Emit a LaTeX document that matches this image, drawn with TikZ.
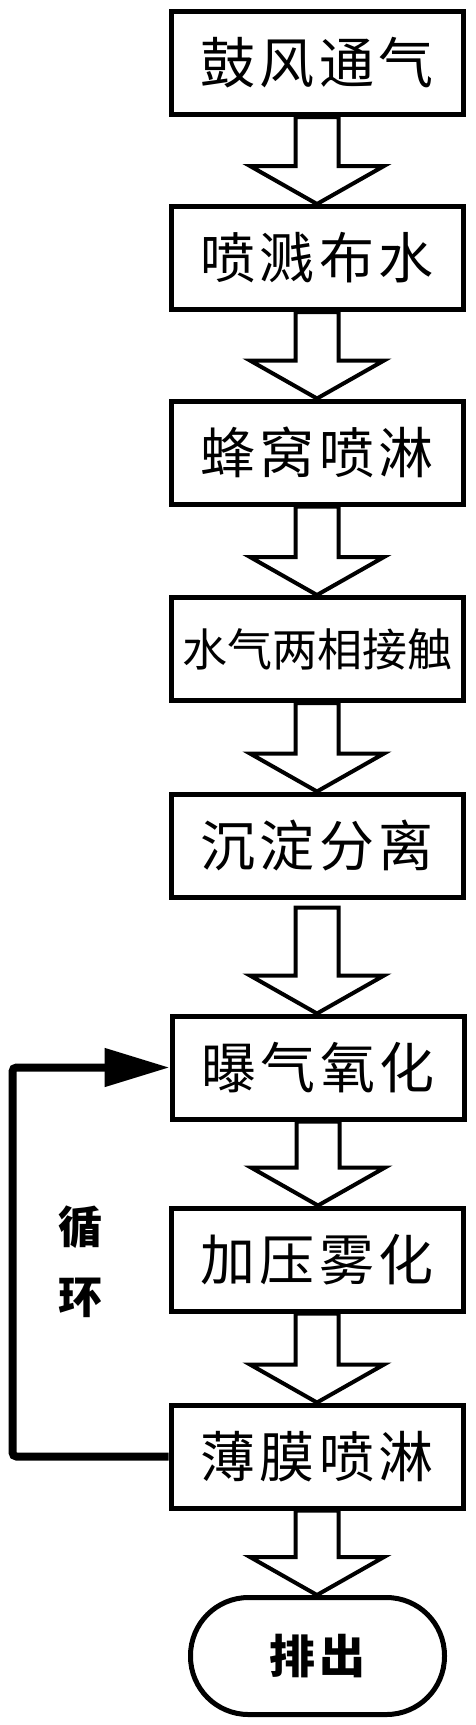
\documentclass[tikz,border=0pt]{standalone}
\usepackage{fontspec}
\setmainfont{Noto Sans CJK SC}
\usetikzlibrary{calc,arrows.meta}
\tikzset{
  stepbox/.style={draw=black, line width=5pt, minimum width=292pt, minimum height=103pt,
    inner sep=0pt, font=\fontsize{55}{60}\selectfont\addfontfeature{LetterSpace=8}},
  widebox/.style={stepbox, font=\fontsize{45}{50}\selectfont},
  endbox/.style={draw=black, line width=5pt, minimum width=254pt, minimum height=117pt,
    rounded corners=58pt, inner sep=0pt, font=\fontsize{46}{50}\selectfont\bfseries\addfontfeature{LetterSpace=10}},
  blockarr/.style={draw=black, line width=4pt, line join=miter},
  loopline/.style={draw=black, line width=8pt, rounded corners=4pt,
    -{Triangle[length=65pt,width=37pt]}},
  looplabel/.style={font=\fontsize{44}{70}\selectfont\bfseries, align=center, inner sep=0pt}
}
\newcommand{\barrow}[3][0pt]{%
  \draw[blockarr] let \p1=(#2.south), \p2=(#3.north) in
    (\x1-21.5pt,\y1-#1) -- (\x1-21.5pt,\y2+38pt) -- (\x1-67pt,\y2+38pt) -- (\x1,\y2)
    -- (\x1+67pt,\y2+38pt) -- (\x1+21.5pt,\y2+38pt) -- (\x1+21.5pt,\y1-#1) -- cycle;}
\begin{document}
\begin{tikzpicture}[x=1pt,y=1pt]
\useasboundingbox (0,0) rectangle (476,-1725);
\node[stepbox] (b1) at (317,-63) {鼓风通气};
\node[stepbox] (b2) at (317,-258) {喷溅布水};
\node[stepbox] (b3) at (317,-452.5) {蜂窝喷淋};
\node[widebox] (b4) at (317,-649) {水气两相接触};
\node[stepbox] (b5) at (317,-845.5) {沉淀分离};
\node[stepbox] (b6) at (318,-1067.5) {曝气氧化};
\node[stepbox] (b7) at (317,-1259.5) {加压雾化};
\node[stepbox] (b8) at (317,-1456.5) {薄膜喷淋};
\node[endbox] (t) at (317.5,-1656) {排出};
\barrow{b1}{b2}
\barrow{b2}{b3}
\barrow{b3}{b4}
\barrow{b4}{b5}
\barrow[8pt]{b5}{b6}
\barrow{b6}{b7}
\barrow{b7}{b8}
\barrow{b8}{t}
\coordinate (lb) at (12.5,-1456.5);
\coordinate (lt) at (12.5,-1067.5);
\draw[loopline] (b8.west) -- (lb) -- (lt) -- (b6.west);
\node[looplabel] (lbl) at (80,-1262) {循\\环};
\end{tikzpicture}
\end{document}
